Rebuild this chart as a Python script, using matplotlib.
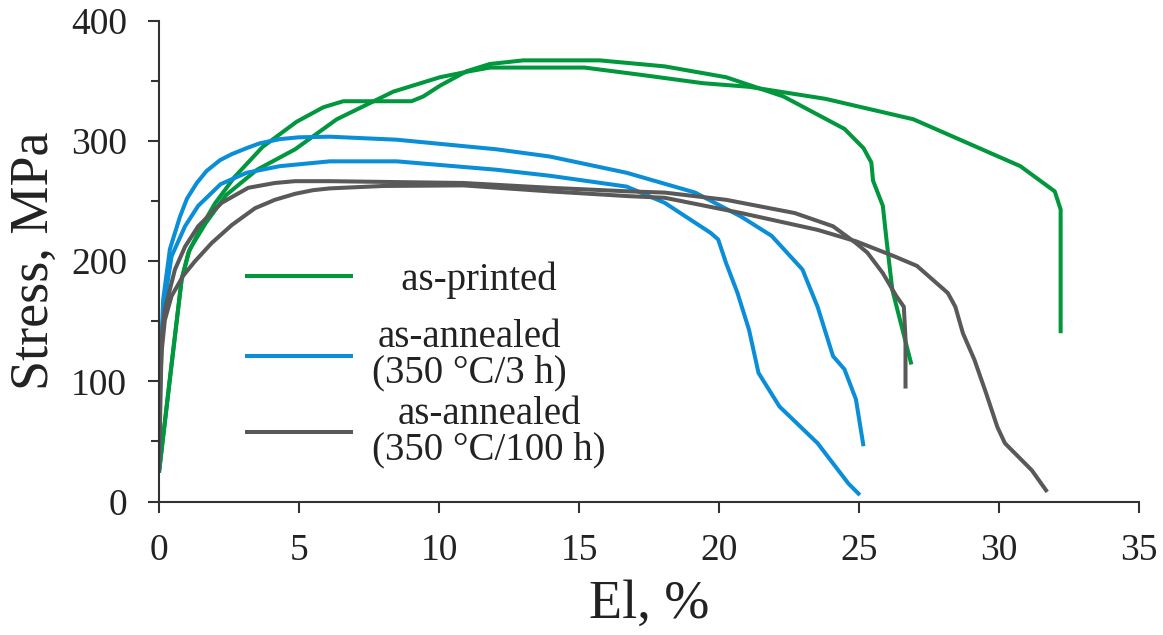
import matplotlib.pyplot as plt
from matplotlib.ticker import MultipleLocator

# as-printed, specimen 1 (breaks at ~26.9 %)
printed1_el = [0, 0.4, 0.81, 1.05, 1.5, 2.0, 2.7, 3.7, 4.92, 5.87, 6.58, 9.02, 9.44,
               10.04, 10.99, 11.82, 13.01, 14.0, 15.74, 18.06, 20.25, 22.3, 24.48, 25.16,
               25.44, 25.5, 25.85, 25.98, 26.19, 26.87]
printed1_s = [24, 105, 185, 207, 228, 248, 270, 295, 316, 328, 333, 333, 337,
              346, 358, 364, 367, 367, 367, 362, 353, 337, 310, 294,
              282, 267, 246, 218, 176, 114]
# as-printed, specimen 2 (breaks at ~32.2 %)
printed2_el = [0, 0.81, 1.1, 1.68, 2.4, 3.5, 4.86, 6.35, 8.37, 10.04, 11.1, 11.82, 15.2,
               17.2, 19.43, 21.07, 23.8, 26.94, 30.76, 31.99, 32.2, 32.2]
printed2_s = [24, 185, 210, 232, 255, 276, 293, 318, 341, 353, 358, 361, 361,
              355, 348, 345, 335, 318, 279, 258, 243, 140]

# annealed 350 C / 3 h
ann3a_el = [0, 0.05, 0.15, 0.39, 0.75, 1.0, 1.35, 1.7, 2.18, 2.6, 3.13, 3.6, 4.32, 5.0,
            6.1, 8.49, 12.06, 13.96, 16.7, 19.15, 20.79, 21.88, 22.98, 23.52, 24.07,
            24.48, 24.89, 25.16]
ann3a_s = [25, 110, 168, 210, 237, 252, 265, 275, 284, 289, 294, 298, 301.5, 303,
           303.5, 301, 293, 287, 273.5, 257, 237, 221, 193, 162, 121,
           110, 85, 46]
ann3b_el = [0, 0.04, 0.21, 0.45, 0.93, 1.4, 2.2, 3.13, 4.32, 6.1, 8.49, 12.06, 13.96,
            16.7, 18.06, 19.7, 19.97, 20.25, 20.66, 21.07, 21.41, 22.16, 23.52, 24.62, 25.03]
ann3b_s = [25, 126, 168, 204, 229, 246, 264, 273.5, 279, 283, 283, 276, 271,
           262, 248.5, 223.5, 218, 198.5, 173.5, 143, 107, 79, 48.5, 15, 5.4]

# annealed 350 C / 100 h
ann100a_el = [0, 0.1, 0.21, 0.57, 0.93, 1.4, 2.24, 3.19, 4.14, 4.86, 6.1, 10.87, 13.96,
              16.8, 18.06, 20.25, 22.7, 24.07, 24.89, 25.3, 25.85, 26.33, 26.6, 26.66, 26.66]
ann100a_s = [25, 137, 160, 193, 212, 229, 248.5, 261, 265, 266.5, 266.5, 265, 261,
             258, 257, 251, 240, 229, 215, 207, 190, 171, 162, 135, 94]
ann100b_el = [0, 0.04, 0.1, 0.21, 0.45, 0.87, 1.29, 1.88, 2.6, 3.43, 4.14, 4.86, 5.5, 6.1,
              8.0, 10.87, 13.96, 16.8, 18.06, 20.79, 23.52, 24.89, 26.26, 27.07, 28.17,
              28.44, 28.71, 29.12, 29.54, 29.94, 30.21, 31.17, 31.72]
ann100b_s = [25, 98, 126, 151, 171, 188, 200, 215, 230, 244, 251, 256, 259, 260.5,
             262.5, 263, 258, 254, 252.7, 240, 226, 216.5, 204, 196, 173.5,
             162, 140, 118, 90, 62, 48.5, 26, 8]

green = "#00973d"
blue = "#0a8ed8"
grey = "#595959"

plt.rcParams["font.family"] = ["Liberation Serif", "DejaVu Serif"]

fig = plt.figure(figsize=(11.63, 6.35), dpi=100)
ax = fig.add_axes([0.1367, 0.2102, 0.8427, 0.7572])

kw = dict(lw=2.9, solid_joinstyle="round", solid_capstyle="butt")
h_pr, = ax.plot(printed1_el, printed1_s, color=green, **kw)
ax.plot(printed2_el, printed2_s, color=green, **kw)
h_a3, = ax.plot(ann3a_el, ann3a_s, color=blue, **kw)
ax.plot(ann3b_el, ann3b_s, color=blue, **kw)
h_a100, = ax.plot(ann100a_el, ann100a_s, color=grey, **kw)
ax.plot(ann100b_el, ann100b_s, color=grey, **kw)

ax.set_xlim(0, 35)
ax.set_ylim(0, 400)
ax.xaxis.set_major_locator(MultipleLocator(5))
ax.yaxis.set_major_locator(MultipleLocator(100))
ax.yaxis.set_minor_locator(MultipleLocator(50))

for s in ["top", "right"]:
    ax.spines[s].set_visible(False)
for s in ["left", "bottom"]:
    ax.spines[s].set_linewidth(1.5)
    ax.spines[s].set_color("#333333")

ax.tick_params(axis="both", which="major", direction="out", length=8, width=1.5,
               labelsize=27, pad=15, color="#333333", labelcolor="#222222")
ax.tick_params(axis="y", which="minor", direction="out", length=6, width=1.5,
               color="#333333")

ax.set_xlabel("El, %", fontsize=39, labelpad=8, color="#222222")
ax.set_ylabel("Stress, MPa", fontsize=39, labelpad=8, color="#222222")

leg_kw = dict(loc="upper left", frameon=False, fontsize=28, handlelength=2.78,
              handletextpad=0.5, labelspacing=0.1, borderpad=0, borderaxespad=0)
leg1 = ax.legend([h_pr], ["   as-printed"], bbox_to_anchor=(0.0876, 0.500), **leg_kw)
ax.add_artist(leg1)
leg2 = ax.legend([h_a3, h_a100],
                 ["as-annealed\n(350 °C/3 h)", "as-annealed\n(350 °C/100 h)"],
                 bbox_to_anchor=(0.0876, 0.379), **leg_kw)
for leg in (leg1, leg2):
    for t in leg.get_texts():
        t.set_multialignment("center")
        t.set_linespacing(0.95)
        t.set_color("#222222")

fig.savefig("out.png", dpi=100)
